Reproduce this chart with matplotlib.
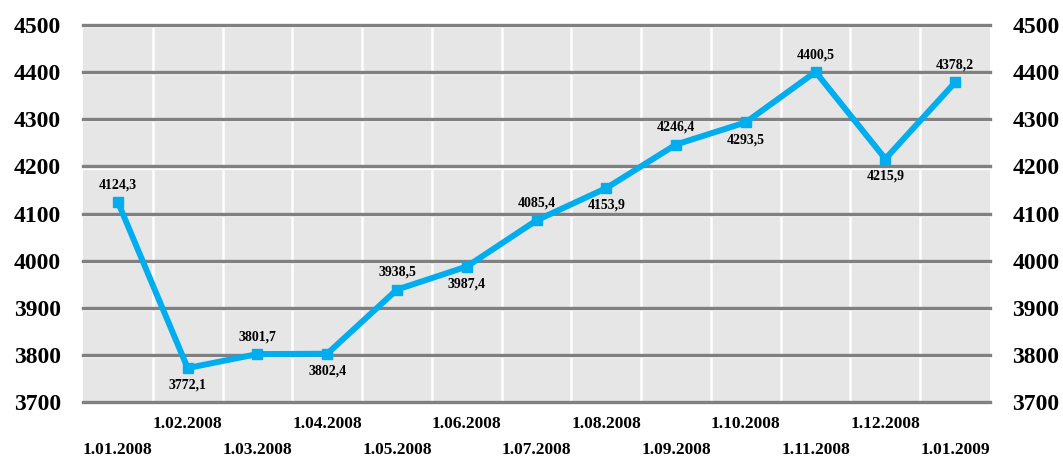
import matplotlib.pyplot as plt
import matplotlib.transforms as mtransforms
import numpy as np

dates = ["1.01.2008", "1.02.2008", "1.03.2008", "1.04.2008", "1.05.2008",
         "1.06.2008", "1.07.2008", "1.08.2008", "1.09.2008", "1.10.2008",
         "1.11.2008", "1.12.2008", "1.01.2009"]
values = [4124.3, 3772.1, 3801.7, 3802.4, 3938.5, 3987.4, 4085.4,
          4153.9, 4246.4, 4293.5, 4400.5, 4215.9, 4378.2]
# label above (1) or below (-1) the point
label_side = [1, -1, 1, -1, 1, -1, 1, -1, 1, -1, 1, -1, 1]
yticks = [3700, 3800, 3900, 4000, 4100, 4200, 4300, 4400, 4500]

font = "Liberation Serif"
line_color = "#00AEEF"


def main():
    fig = plt.figure(figsize=(10.63, 4.58), dpi=100)
    ax = fig.add_axes([83 / 1063, 1 - 402 / 458, 907 / 1063, 377 / 458])
    ax.set_facecolor("#E6E6E6")

    x = np.arange(len(values))
    ax.set_xlim(-0.5, len(values) - 0.5)
    ax.set_ylim(yticks[0], yticks[-1])

    # vertical white separators between columns
    for xv in x[:-1] + 0.5:
        ax.axvline(xv, color="white", lw=1.8, zorder=1)

    # horizontal gray grid lines with a white highlight below
    shifted = mtransforms.offset_copy(ax.transData, fig=fig, x=0, y=-2.2, units="dots")
    for yv in yticks:
        ax.plot([-0.5, len(values) - 0.5], [yv, yv], color="white", lw=1.6,
                transform=shifted, zorder=2, clip_on=False, solid_capstyle="butt")
        ax.axhline(yv, color="#808080", lw=2.4, zorder=3, clip_on=False)

    ax.plot(x, values, color=line_color, lw=4.3, marker="s", markersize=7.5,
            zorder=5, clip_on=False)

    for xi, v, side in zip(x, values, label_side):
        ax.annotate(f"{v:.1f}".replace(".", ","), (xi, v),
                    xytext=(0, 12.5 * side), textcoords="offset points",
                    ha="center", va="center", fontsize=10, fontweight="bold",
                    family=font, zorder=6)

    # x labels in two staggered rows
    ax.set_xticks(x[1::2], dates[1::2])
    ax.set_xticks(x[0::2], dates[0::2], minor=True)
    ax.tick_params(axis="x", which="major", length=0, pad=10)
    ax.tick_params(axis="x", which="minor", length=0, pad=28.5)
    for lbl in ax.get_xticklabels(which="both"):
        lbl.set_fontfamily(font)
        lbl.set_fontweight("bold")
        lbl.set_fontsize(12.5)

    ax.set_yticks(yticks)
    ax.tick_params(axis="y", length=0, pad=16, labelsize=17)
    for lbl in ax.get_yticklabels():
        lbl.set_fontfamily(font)
        lbl.set_fontweight("bold")

    ax2 = ax.twinx()
    ax2.set_ylim(ax.get_ylim())
    ax2.set_yticks(yticks)
    ax2.tick_params(axis="y", length=0, pad=16, labelsize=17)
    for lbl in ax2.get_yticklabels():
        lbl.set_fontfamily(font)
        lbl.set_fontweight("bold")

    for a in (ax, ax2):
        for s in a.spines.values():
            s.set_visible(False)

    fig.savefig("out.png", dpi=100)


if __name__ == "__main__":
    main()
